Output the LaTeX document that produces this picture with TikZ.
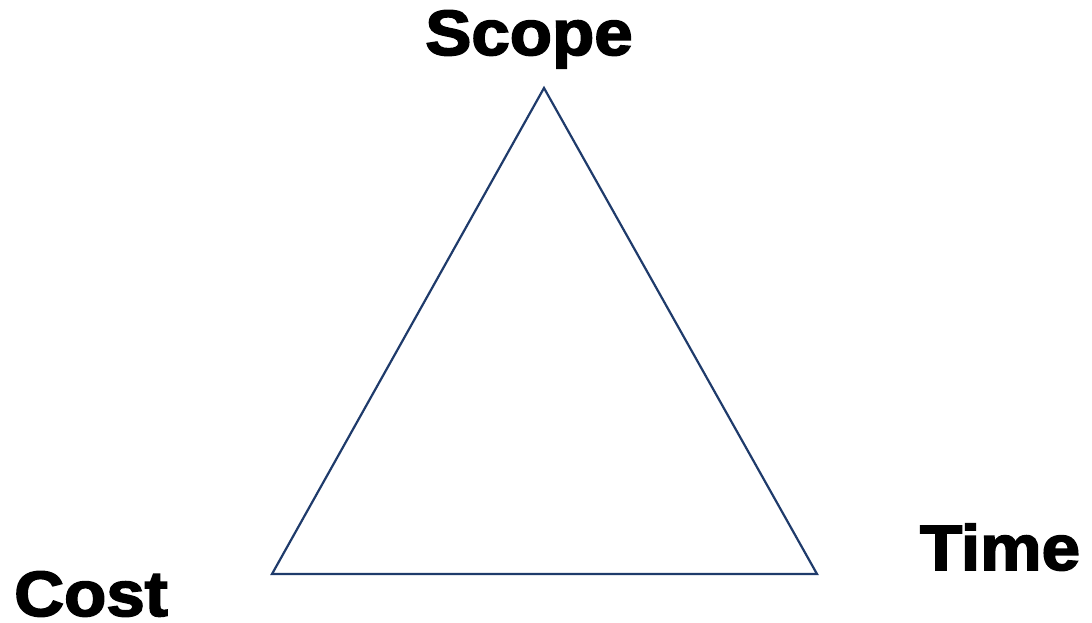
\documentclass[tikz,border=0pt]{standalone}
\usepackage{fontspec}
\setmainfont{Liberation Sans}
\newfontfamily\heavyfont[FakeBold=2.5]{Liberation Sans Bold}
\definecolor{tri}{HTML}{1F3B6B}
\begin{document}
\begin{tikzpicture}[x=1pt,y=-1pt,
  lbl/.style={font=\heavyfont\fontsize{64}{64}\selectfont, anchor=base, inner sep=0pt, xscale=1.08},
  edge/.style={draw=tri, line width=2.2pt, line join=miter}]
\useasboundingbox (0,0) rectangle (1092,623);
\coordinate (A) at (544,88);
\coordinate (B) at (272,574);
\coordinate (C) at (817,574);
\draw[edge] (A) -- (B) -- (C) -- cycle;
\node[lbl] (scope) at (529,55) {Scope};
\node[lbl] (time) at (1000,570) {Time};
\node[lbl, text depth=0pt] (cost) at (91,616) {Cost};
\end{tikzpicture}
\end{document}
